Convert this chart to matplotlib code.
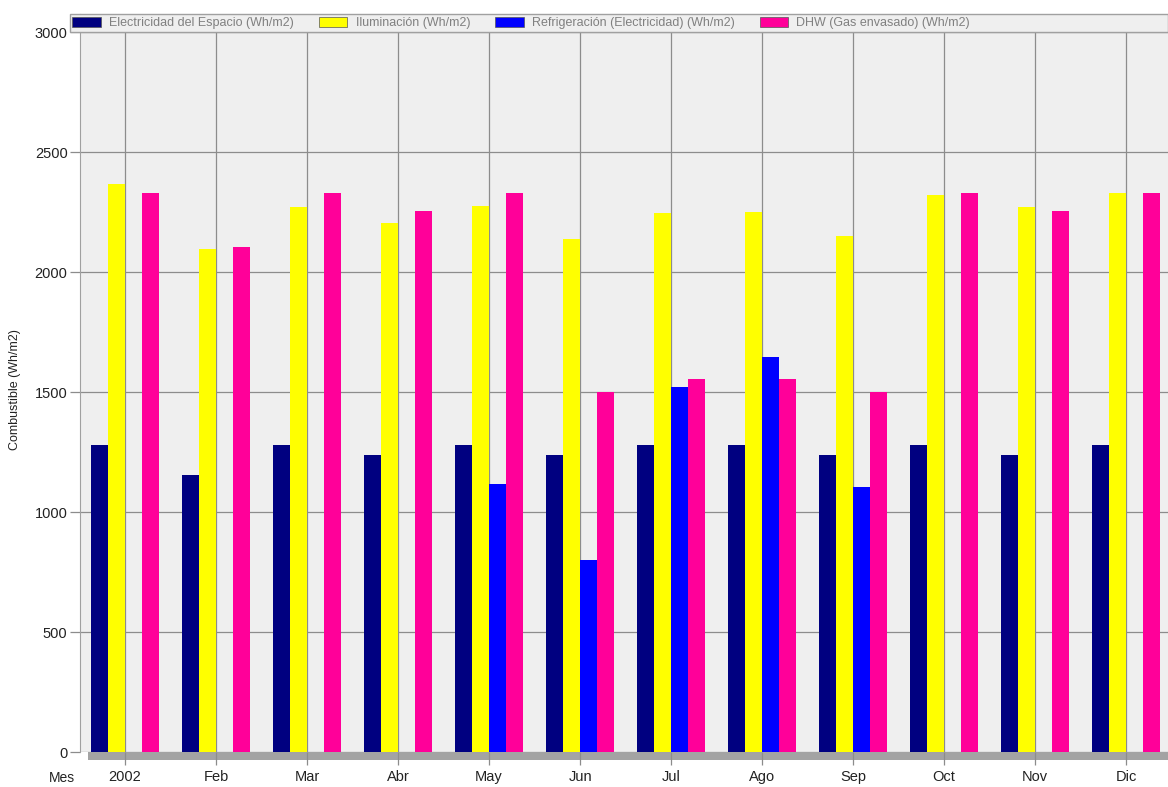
import numpy as np
import matplotlib.pyplot as plt
from matplotlib.patches import Rectangle, Patch

plt.rcParams['font.family'] = ['Liberation Sans', 'DejaVu Sans']

months = ["2002", "Feb", "Mar", "Abr", "May", "Jun",
          "Jul", "Ago", "Sep", "Oct", "Nov", "Dic"]
series_names = ["Electricidad del Espacio (Wh/m2)",
                "Iluminación (Wh/m2)",
                "Refrigeración (Electricidad) (Wh/m2)",
                "DHW (Gas envasado) (Wh/m2)"]
electricidad = [1279, 1155, 1279, 1239, 1279, 1239, 1279, 1279, 1239, 1279, 1239, 1279]
iluminacion = [2367, 2097, 2270, 2203, 2275, 2136, 2247, 2251, 2151, 2320, 2270, 2331]
refrigeracion = [0, 0, 0, 0, 1115, 799, 1519, 1644, 1103, 0, 0, 0]
dhw = [2329, 2105, 2329, 2253, 2329, 1501, 1556, 1556, 1501, 2329, 2253, 2329]
colors = ["#000080", "#ffff00", "#0000ff", "#ff0099"]

W, H = 1168, 787
fig = plt.figure(figsize=(W / 100, H / 100), dpi=100)
ax = fig.add_axes([80 / W, 1 - 752 / H, (W - 80) / W, (752 - 14) / H])
ax.set_facecolor("#efefef")

x = np.arange(len(months))
bw = 0.187
data = [electricidad, iluminacion, refrigeracion, dhw]
for i, (vals, c) in enumerate(zip(data, colors)):
    ax.bar(x + (i - 1.5) * bw, vals, width=bw, color=c, zorder=3, linewidth=0)

ax.set_xlim(-0.495, 11.46)
ax.set_ylim(0, 3075)
ax.set_yticks([0, 500, 1000, 1500, 2000, 2500, 3000])
ax.set_xticks(x)
ax.set_xticklabels(months)
ax.grid(True, color="#8c8c8c", linewidth=0.9, zorder=0)
for s in ["top", "right", "bottom"]:
    ax.spines[s].set_visible(False)
ax.spines["left"].set_color("#a0a0a0")
ax.tick_params(axis="y", length=7, width=0.9, color="#8c8c8c", pad=2,
               labelsize=10.5, labelcolor="#222222")
ax.tick_params(axis="x", length=9, width=0.9, color="#8c8c8c", pad=4,
               labelsize=10.5, labelcolor="#222222")

# gray floor strip under the bars
ax.add_patch(Rectangle((-0.41, -34), 12, 34, color="#a3a3a3",
                       clip_on=False, zorder=1, linewidth=0))

# legend strip across the top
fig.patches.append(Rectangle((70 / W, 1 - 32 / H), (W - 70) / W, 18 / H,
                             transform=fig.transFigure, facecolor="#efefef",
                             edgecolor="#a0a0a0", linewidth=1, zorder=5))
handles = [Patch(facecolor=c, edgecolor="#555555", linewidth=0.5) for c in colors]
fig.legend(handles, series_names, loc="center left",
           bbox_to_anchor=(72 / W, 1 - 23 / H), ncol=4, frameon=False,
           fontsize=9, labelcolor="#808080", handlelength=2.3, handleheight=0.85,
           handletextpad=0.65, columnspacing=2.0, borderaxespad=0, borderpad=0)

fig.text(15 / W, 1 - 390 / H, "Combustible (Wh/m2)", rotation=90,
         ha="center", va="center", fontsize=9, color="#222222")
fig.text(62 / W, 1 - 771 / H, "Mes", ha="center", va="top",
         fontsize=10, color="#222222")

fig.savefig("out.png", dpi=100)
